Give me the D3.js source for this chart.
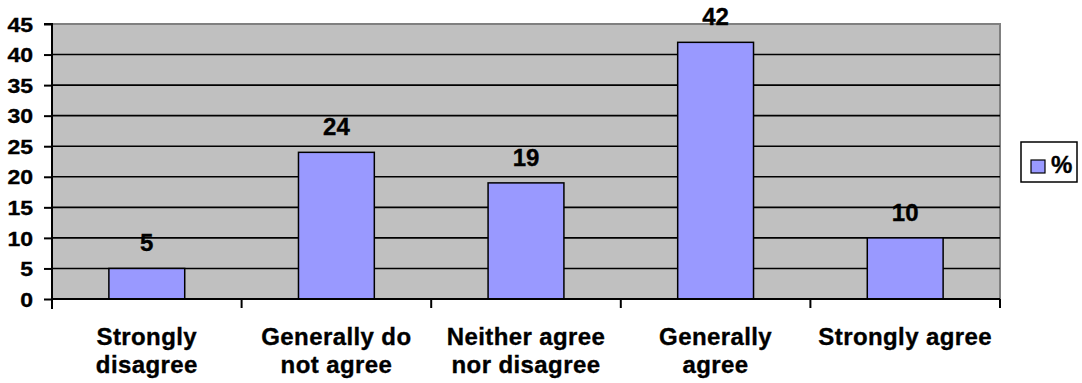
<!DOCTYPE html>
<html>
<head>
<meta charset="utf-8">
<script src="https://cdn.jsdelivr.net/npm/d3@7"></script>
<style>
html,body{margin:0;padding:0;background:#fff;}
svg{display:block;}
text{font-family:"Liberation Sans",Arial,sans-serif;font-weight:bold;fill:#000;stroke:#000;stroke-width:0.35px;}
</style>
</head>
<body>
<svg id="chart" width="1082" height="383"></svg>
<script>
const categories = [["Strongly","disagree"],["Generally do","not agree"],["Neither agree","nor disagree"],["Generally","agree"],["Strongly agree"]];
const values = [5, 24, 19, 42, 10];
const yTicks = [0,5,10,15,20,25,30,35,40,45];
const seriesName = "%";

const svg = d3.select("#chart");
const pL = 52, pR = 1000, pT = 24, pB = 299;

const x = d3.scaleBand().domain(d3.range(categories.length)).range([pL, pR]).paddingInner(0.6).paddingOuter(0.3);
const xb = d3.scaleBand().domain(d3.range(categories.length)).range([pL, pR]);
const y = d3.scaleLinear().domain([0,45]).range([pB, pT]);

// plot background
svg.append("rect").attr("x", pL).attr("y", pT).attr("width", pR-pL).attr("height", pB-pT).attr("fill", "#c0c0c0");
// top and right gray border
svg.append("path").attr("d", `M${pL},${pT}H${pR}V${pB}`).attr("fill","none").attr("stroke","#808080").attr("stroke-width",2);

// gridlines
svg.append("g").selectAll("line").data(yTicks.filter(d=>d>0 && d<45)).join("line")
  .attr("x1", pL).attr("x2", pR).attr("y1", d=>y(d)).attr("y2", d=>y(d))
  .attr("stroke","#000").attr("stroke-width",1.6);

// bars
svg.append("g").selectAll("rect").data(values).join("rect")
  .attr("x", (d,i)=>x(i)).attr("width", x.bandwidth())
  .attr("y", d=>y(d)).attr("height", d=>pB-y(d))
  .attr("fill","#9999ff").attr("stroke","#000").attr("stroke-width",1.5);

// value labels
svg.append("g").selectAll("text").data(values).join("text")
  .attr("x", (d,i)=>x(i)+x.bandwidth()/2).attr("y", d=>y(d)-17)
  .attr("text-anchor","middle").style("font-size","24px").text(d=>d);

// y axis
const yAxis = d3.axisLeft(y).tickValues(yTicks).tickSize(8).tickPadding(11);
const yg = svg.append("g").attr("transform", `translate(${pL},0)`).call(yAxis);
yg.select(".domain").attr("stroke","#000").attr("stroke-width",2).attr("d", `M-8,${pT}H0V${pB+10}`);
yg.selectAll(".tick line").attr("stroke","#000").attr("stroke-width",2);
yg.selectAll(".tick text").style("font-size","20px").attr("fill","#000")
  .attr("transform","scale(1.15,1)").attr("x", -19/1.15).attr("dy","0.36em");

// x axis line
svg.append("line").attr("x1", pL).attr("x2", pR).attr("y1", pB).attr("y2", pB).attr("stroke","#000").attr("stroke-width",2);
// x category tick marks
const bounds = d3.range(1, categories.length+1).map(i => i < categories.length ? xb(i) : pR);
svg.append("g").selectAll("line").data(bounds).join("line")
  .attr("x1", d=>d).attr("x2", d=>d).attr("y1", pB).attr("y2", pB+9)
  .attr("stroke","#000").attr("stroke-width",2);

// category labels
const cl = svg.append("g").selectAll("text").data(categories).join("text")
  .attr("x", (d,i)=>xb(i)+xb.bandwidth()/2).attr("y", 345)
  .attr("text-anchor","middle").style("font-size","24px").style("letter-spacing","0.4px");
cl.selectAll("tspan").data(d=>d).join("tspan")
  .attr("x", function(){return this.parentNode.getAttribute("x");})
  .attr("dy", (d,i)=> i===0 ? 0 : 28).text(d=>d);

// legend
const lg = svg.append("g");
lg.append("rect").attr("x",1021).attr("y",142).attr("width",56).attr("height",40).attr("fill","#fff").attr("stroke","#000").attr("stroke-width",1.5);
lg.append("rect").attr("x",1031).attr("y",160).attr("width",14).attr("height",13).attr("fill","#9999ff").attr("stroke","#000").attr("stroke-width",1.2);
lg.append("text").attr("x",1051).attr("y",173).style("font-size","24px").text(seriesName);
</script>
</body>
</html>
